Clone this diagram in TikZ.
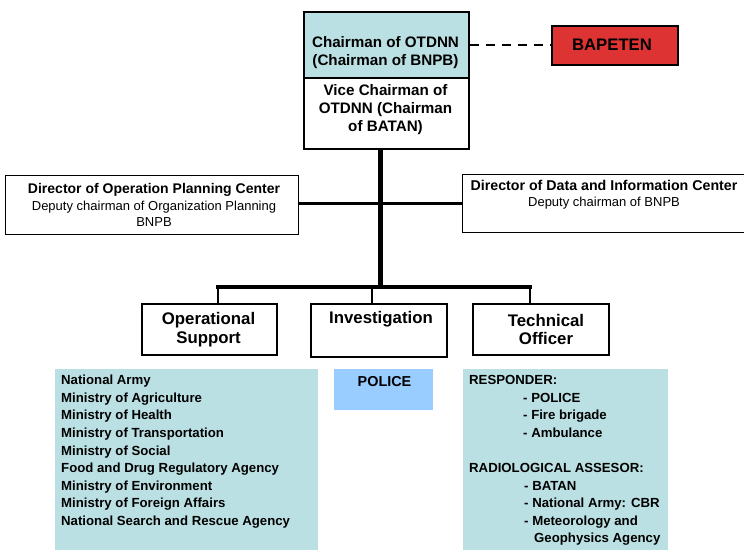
\documentclass[tikz,border=0pt]{standalone}
\usepackage{fontspec}
\setmainfont{Liberation Sans}
\definecolor{teal1}{RGB}{187,224,227}
\definecolor{red1}{RGB}{221,51,51}
\definecolor{blue1}{RGB}{153,204,255}
\begin{document}
\begin{tikzpicture}[x=1pt,y=-1pt,
  frame/.style={draw=black,line width=1.8pt,inner sep=0pt,anchor=north west},
  fillbox/.style={inner sep=0pt,anchor=north west},
  hd/.style={font=\fontsize{15.2}{18}\selectfont\bfseries,align=center,inner sep=0pt},
  sub/.style={font=\fontsize{16.8}{18.5}\selectfont\bfseries,align=center,inner sep=0pt},
  lst/.style={font=\fontsize{13.2}{17.6}\selectfont\bfseries,align=left,inner sep=0pt,anchor=north west},
  dirt/.style={font=\fontsize{13}{16.2}\selectfont,align=center,inner sep=0pt}]
\useasboundingbox (0,0) rectangle (744,550);
% top boxes
\node[frame,fill=teal1,minimum width=165pt,minimum height=66pt] (chair) at (303,11) {};
\node[frame,fill=white,minimum width=165pt,minimum height=71pt] (vice) at (303,77) {};
\node[hd] (chairT) at (385.5,53) {Chairman of OTDNN\\(Chairman of BNPB)};
\node[hd] (viceT) at (385.5,109.5) {Vice Chairman of\\OTDNN (Chairman\\of BATAN)};
\node[frame,fill=red1,minimum width=126pt,minimum height=39pt] (bap) at (551,25) {};
\node[hd,font=\fontsize{16.7}{18}\selectfont\bfseries] (bapT) at (612,44.5) {BAPETEN};
\draw[line width=2pt,dash pattern=on 9pt off 7pt] (chair.east |- bap.west) -- (bap.west);
% directors
\node[frame,line width=1.3pt,minimum width=293pt,minimum height=59pt] (dirL) at (5,175) {};
\node[frame,line width=1.3pt,minimum width=282pt,minimum height=58pt] (dirR) at (462,174) {};
\node[dirt] (dirLT) at (154,205) {{\fontsize{14}{16.2}\selectfont\bfseries Director of Operation Planning Center}\\Deputy chairman of Organization Planning\\BNPB};
\node[dirt] (dirRT) at (604,195) {{\fontsize{14.2}{16.2}\selectfont\bfseries Director of Data and Information Center}\\Deputy chairman of BNPB};
% trunk
\coordinate (trunkTop) at (380,148);
\coordinate (trunkBot) at (380,289);
\draw[line width=3pt] (dirL.east |- 0,203) -- (dirR.west |- 0,203);
\draw[line width=5pt] (trunkTop) -- (trunkBot);
% bus
\coordinate (busL) at (218,287);
\coordinate (busM) at (372,287);
\coordinate (busR) at (530,287);
\draw[line width=4pt,line cap=rect] (busL) -- (busR);
% lower boxes
\node[frame,minimum width=135pt,minimum height=51pt] (ops) at (141,303) {};
\node[frame,minimum width=136pt,minimum height=53pt] (inv) at (310,303) {};
\node[frame,minimum width=136pt,minimum height=51pt] (tech) at (472,303) {};
\draw[line width=1.5pt] (busL) -- (busL |- ops.north);
\draw[line width=1.5pt] (busM) -- (busM |- inv.north);
\draw[line width=1.5pt] (busR) -- (busR |- tech.north);
\node[sub] (opsT) at (208.5,329.5) {Operational\\Support};
\node[sub] (invT) at (381,319.5) {Investigation};
\node[sub] (techT) at (546,329.5) {Technical\\Officer};
% lists
\node[fillbox,fill=teal1,minimum width=263pt,minimum height=181pt] (opsL) at (55,369) {};
\node[fillbox,fill=blue1,minimum width=99pt,minimum height=41pt] (pol) at (334,369) {};
\node[fillbox,fill=teal1,minimum width=205pt,minimum height=181pt] (techL) at (463,369) {};
\node[lst] (opsLT) at (61,375) {National Army\\Ministry of Agriculture\\Ministry of Health\\Ministry of Transportation\\Ministry of Social\\Food and Drug Regulatory Agency\\Ministry of Environment\\Ministry of Foreign Affairs\\National Search and Rescue Agency};
\node[hd,font=\fontsize{14.4}{17}\selectfont\bfseries] (polT) at (384.5,381.5) {POLICE};
\node[lst] (techLT) at (469,375) {RESPONDER:\\
\hspace*{54pt}- POLICE\\
\hspace*{54pt}- Fire brigade\\
\hspace*{54pt}- Ambulance\\[17.6pt]
RADIOLOGICAL ASSESOR:\\
\hspace*{55pt}- BATAN\\
\hspace*{55pt}- National Army: CBR\\
\hspace*{55pt}- Meteorology and\\
\hspace*{65pt}Geophysics Agency};
\end{tikzpicture}
\end{document}
